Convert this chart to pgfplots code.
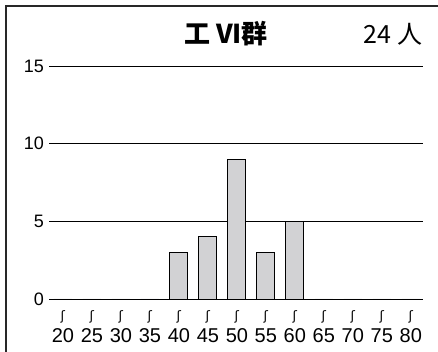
\documentclass[border=0pt]{standalone}
\usepackage{fontspec}
\setmainfont{Liberation Sans}
\newfontfamily\cjk{Noto Sans CJK JP}
\newfontfamily\dvs{DejaVu Sans}
\usepackage{pgfplots}
\pgfplotsset{compat=1.18}
\definecolor{barfill}{RGB}{210,210,212}
\definecolor{framec}{RGB}{40,40,40}
\begin{document}
\begin{tikzpicture}[x=1pt,y=1pt]
\path[use as bounding box] (0,0) rectangle (438,352);
% frame: only left and top edges show
\draw[framec,line width=1.4pt] (6,0) -- (6,346) -- (438,346);

\begin{axis}[
  at={(49pt,53pt)}, anchor=south west,
  scale only axis,
  width=374pt, height=233pt,
  xmin=17.6, xmax=82.1,
  ymin=0, ymax=15,
  xtick={20,25,...,80},
  ytick={0,5,10,15},
  ymajorgrids,
  grid style={black,line width=0.8pt},
  axis line style={draw=none},
  major tick length=0pt,
  /pgf/number format/assume math mode=true,
  yticklabel style={font=\fontsize{18}{18}\selectfont,inner sep=0pt,xshift=-5pt},
  xticklabel style={align=center,inner sep=0pt,yshift=-11pt},
  xticklabel={{\dvs\fontsize{13}{13}\selectfont ʃ}\\[5pt]{\fontsize{20}{20}\selectfont\pgfmathprintnumber{\tick}}},
  ybar, bar width=18pt,
  clip=false,
]
\addplot[draw=black,line width=0.8pt,fill=barfill] coordinates {
(20,0) (25,0) (30,0) (35,0) (40,3) (45,4) (50,9) (55,3) (60,5) (65,0) (70,0) (75,0) (80,0)
};
\end{axis}

\node[font=\cjk\bfseries\fontsize{26}{26}\selectfont] at (226,318) {工 VI群};
\node[font=\cjk\fontsize{25}{25}\selectfont] at (393,318) {24 人};
\end{tikzpicture}
\end{document}
